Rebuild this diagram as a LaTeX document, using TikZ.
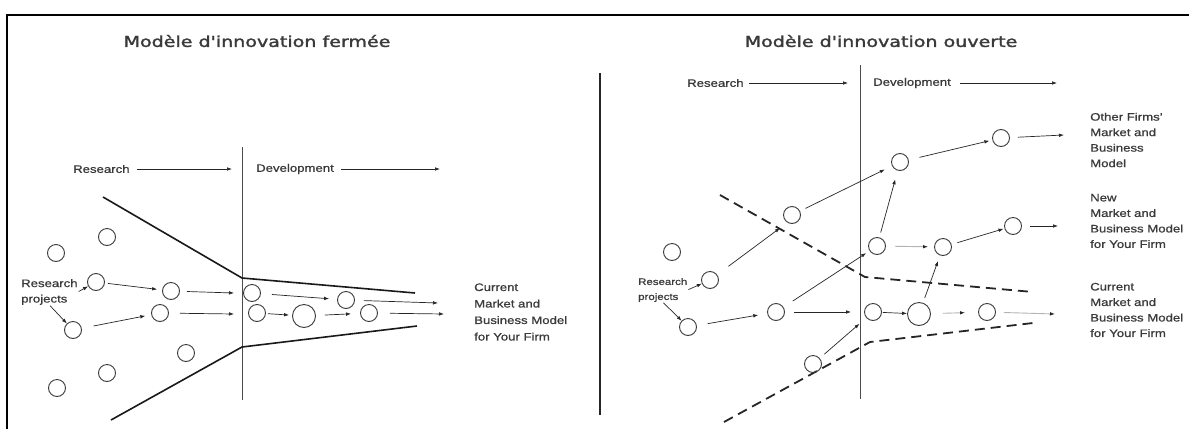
\documentclass[tikz,border=0pt]{standalone}
\usepackage{fontspec}
\setmainfont{Liberation Sans}[BoldFont={Liberation Sans},BoldFeatures={FakeBold=0.7}]
\newfontfamily\titlefont{DejaVu Sans}[BoldFont={DejaVu Sans},BoldFeatures={FakeBold=1.6}]
\usepackage{graphicx}
\usetikzlibrary{arrows.meta}
\newcommand{\wid}[1]{\scalebox{1.22}[1]{#1}}
\newcommand{\twid}[1]{\scalebox{1.27}[1]{#1}}
\definecolor{ink}{HTML}{3A3A3A}
\definecolor{faint}{HTML}{B4B4B4}
\begin{document}
\begin{tikzpicture}[x=1pt,y=-1pt,
  pc/.style={circle,draw=ink,line width=0.9pt,inner sep=0pt,minimum size=17pt},
  pcb/.style={pc,minimum size=23pt},
  arr/.style={draw=black!85,line width=0.7pt,-{Latex[length=5pt,width=3.6pt]}},
  farr/.style={draw=faint,line width=0.9pt,-{Latex[length=5pt,width=3.6pt,color=black!85]}},
  fl/.style={draw=black!90,line width=1.6pt},
  dl/.style={draw=black!85,line width=1.8pt,dash pattern=on 10pt off 6pt},
  lbl/.style={text=ink,font=\bfseries\fontsize{10.8}{15.5}\selectfont,inner sep=0pt,anchor=west,align=left},
  ttl/.style={text=ink,font=\titlefont\bfseries\fontsize{15}{18}\selectfont,inner sep=0pt},
  vl/.style={draw=black!70,line width=1pt}]

\useasboundingbox (0,0) rectangle (1189,429);
\fill[white] (0,0) rectangle (1189,429);

% frame
\coordinate (f1) at (7,429);
\coordinate (f2) at (7,15);
\coordinate (f3) at (1189,15);
\draw[line width=1.5pt] (f1) -- (f2) -- (f3);

% titles
\node[ttl] (t1) at (257,41) {\twid{Modèle d'innovation fermée}};
\node[ttl] (t2) at (881,41) {\twid{Modèle d'innovation ouverte}};

% middle divider
\coordinate (m1) at (600,73);
\coordinate (m2) at (600,415);
\draw[line width=1.2pt,black!85] (m1) -- (m2);

% ================= LEFT PANEL =================
\coordinate (v1t) at (242,147);
\coordinate (v1b) at (242,400);
\draw[vl] (v1t) -- (v1b);

\node[lbl] (lres) at (73,169) {\wid{Research}};
\coordinate (lrese) at (232,169);
\draw[arr,shorten <=7pt] (lres) -- (lrese);
\node[lbl] (ldev) at (256,169) {\wid{Development}};
\coordinate (ldeve) at (440,169);
\draw[arr,shorten <=7pt] (ldev) -- (ldeve);

% funnel
\coordinate (ft1) at (103,197);
\coordinate (ft2) at (242,278);
\coordinate (ft3) at (415,293);
\coordinate (fb1) at (111,420);
\coordinate (fb2) at (242,347);
\coordinate (fb3) at (417,326);
\draw[fl] (ft1) -- (ft2) -- (ft3);
\draw[fl] (fb1) -- (fb2) -- (fb3);

% circles
\node[pc] (c1) at (56,253) {};
\node[pc] (c2) at (107,237) {};
\node[pc] (c3) at (96,282) {};
\node[pc] (c4) at (73,330) {};
\node[pc] (c5) at (171,291) {};
\node[pc] (c6) at (160,313) {};
\node[pc] (c7) at (186,353) {};
\node[pc] (c8) at (107,373) {};
\node[pc] (c9) at (57,388) {};
\node[pc] (d1) at (252,293) {};
\node[pc] (d2) at (257,313) {};
\node[pcb] (d3) at (304,316) {};
\node[pc] (d4) at (346,300) {};
\node[pc] (d5) at (369,313) {};

\node[lbl] (lp) at (21,292) {\wid{Research}\\\wid{projects}};
\draw[arr,shorten <=1pt] (lp.east) -- (c3);
\draw[arr,shorten <=1pt] (lp.south) -- (c4);

\coordinate (e1) at (234,293);
\coordinate (e2) at (234,314);
\coordinate (e3) at (438,303);
\coordinate (e4) at (444,314);
\draw[arr,shorten <=3pt,shorten >=5pt] (c3) -- (c5);
\draw[arr,shorten <=12pt,shorten >=6pt] (c4) -- (c6);
\draw[arr,shorten <=7pt] (c5) -- (e1);
\draw[arr,shorten <=11pt] (c6) -- (e2);
\draw[arr,shorten <=11pt,shorten >=8pt] (d1) -- (d4);
\draw[arr,shorten <=2pt,shorten >=3pt] (d2) -- (d3);
\draw[arr,shorten <=9pt,shorten >=9pt] (d3) -- (d5);
\draw[arr,shorten <=9pt] (d4) -- (e3);
\draw[arr,shorten <=12pt] (d5) -- (e4);

\node[lbl,font=\bfseries\fontsize{10.8}{16.5}\selectfont] (lcur) at (474,312)
  {\wid{Current}\\\wid{Market and}\\\wid{Business Model}\\\wid{for Your Firm}};

% ================= RIGHT PANEL =================
\coordinate (v2t) at (860,65);
\coordinate (v2b) at (860,399);
\draw[vl] (v2t) -- (v2b);

\node[lbl] (rres) at (687,83) {\wid{Research}};
\coordinate (rrese) at (848,83);
\draw[arr,shorten <=5pt] (rres) -- (rrese);
\node[lbl] (rdev) at (873,83) {\wid{Development}};
\coordinate (rdeve) at (1057,83);
\draw[arr,shorten <=9pt] (rdev) -- (rdeve);

% dashed boundaries
\coordinate (da1) at (720,195);
\coordinate (da2) at (865,277);
\coordinate (da3) at (1033,292);
\coordinate (db1) at (724,422);
\coordinate (db2) at (870,342);
\coordinate (db3) at (1033,323);
\draw[dl] (da1) -- (da2) -- (da3);
\draw[dl] (db1) -- (db2) -- (db3);

% circles
\node[pc] (R0) at (672,252) {};
\node[pc] (R1) at (710,280) {};
\node[pc] (R2) at (688,327) {};
\node[pc] (M1) at (776,312) {};
\node[pc] (O3) at (792,215) {};
\node[pc] (O2) at (900,162) {};
\node[pc] (O1) at (1001,138) {};
\node[pc] (N1) at (877,246) {};
\node[pc] (N2) at (943,247) {};
\node[pc] (N3) at (1013,226) {};
\node[pc] (C1) at (873,312) {};
\node[pcb] (C2) at (919,314) {};
\node[pc] (C3) at (987,312) {};
\node[pc] (D) at (813,364) {};

\node[lbl,font=\bfseries\fontsize{9.4}{15}\selectfont] (rp) at (638,290) {\wid{Research}\\\wid{projects}};
\draw[arr,shorten <=1pt] (rp.east) -- (R1);
\draw[arr,shorten <=1pt] (rp.south) -- (R2);

\coordinate (x1) at (780,228);
\coordinate (z1) at (1064,135);
\coordinate (z2) at (1058,226);
\coordinate (z3) at (1055,314);
\draw[arr,shorten <=14pt] (R1) -- (x1);
\draw[arr,shorten <=6pt,shorten >=8pt] (O3) -- (O2);
\draw[arr,shorten <=11pt,shorten >=3pt] (O2) -- (O1);
\draw[arr,shorten <=8pt] (O1) -- (z1);
\draw[arr,shorten <=11pt,shorten >=4pt] (M1) -- (N1);
\draw[arr,shorten <=11pt,shorten >=9pt] (R2) -- (M1);
\draw[arr,shorten <=9pt,shorten >=13pt] (M1) -- (C1);
\draw[arr,shorten <=1pt,shorten >=0pt] (C1) -- (C2);
\draw[farr,shorten <=12pt,shorten >=13pt] (C2) -- (C3);
\draw[farr,shorten <=8pt] (C3) -- (z3);
\draw[farr,shorten <=9pt,shorten >=6pt] (N1) -- (N2);
\draw[arr,shorten <=6pt,shorten >=1pt] (N2) -- (N3);
\draw[arr,shorten <=8pt] (N3) -- (z2);
\draw[arr,shorten <=5pt,shorten >=9pt] (N1) -- (O2);
\draw[arr,shorten <=5pt,shorten >=6pt] (C2) -- (N2);
\draw[arr,shorten <=6pt,shorten >=9pt] (D) -- (C1);

\node[lbl] (oth) at (1090,140)
  {\wid{Other Firms'}\\\wid{Market and}\\\wid{Business}\\\wid{Model}};
\node[lbl] (new) at (1090,221)
  {\wid{New}\\\wid{Market and}\\\wid{Business Model}\\\wid{for Your Firm}};
\node[lbl] (rcur) at (1090,310)
  {\wid{Current}\\\wid{Market and}\\\wid{Business Model}\\\wid{for Your Firm}};
\end{tikzpicture}
\end{document}
